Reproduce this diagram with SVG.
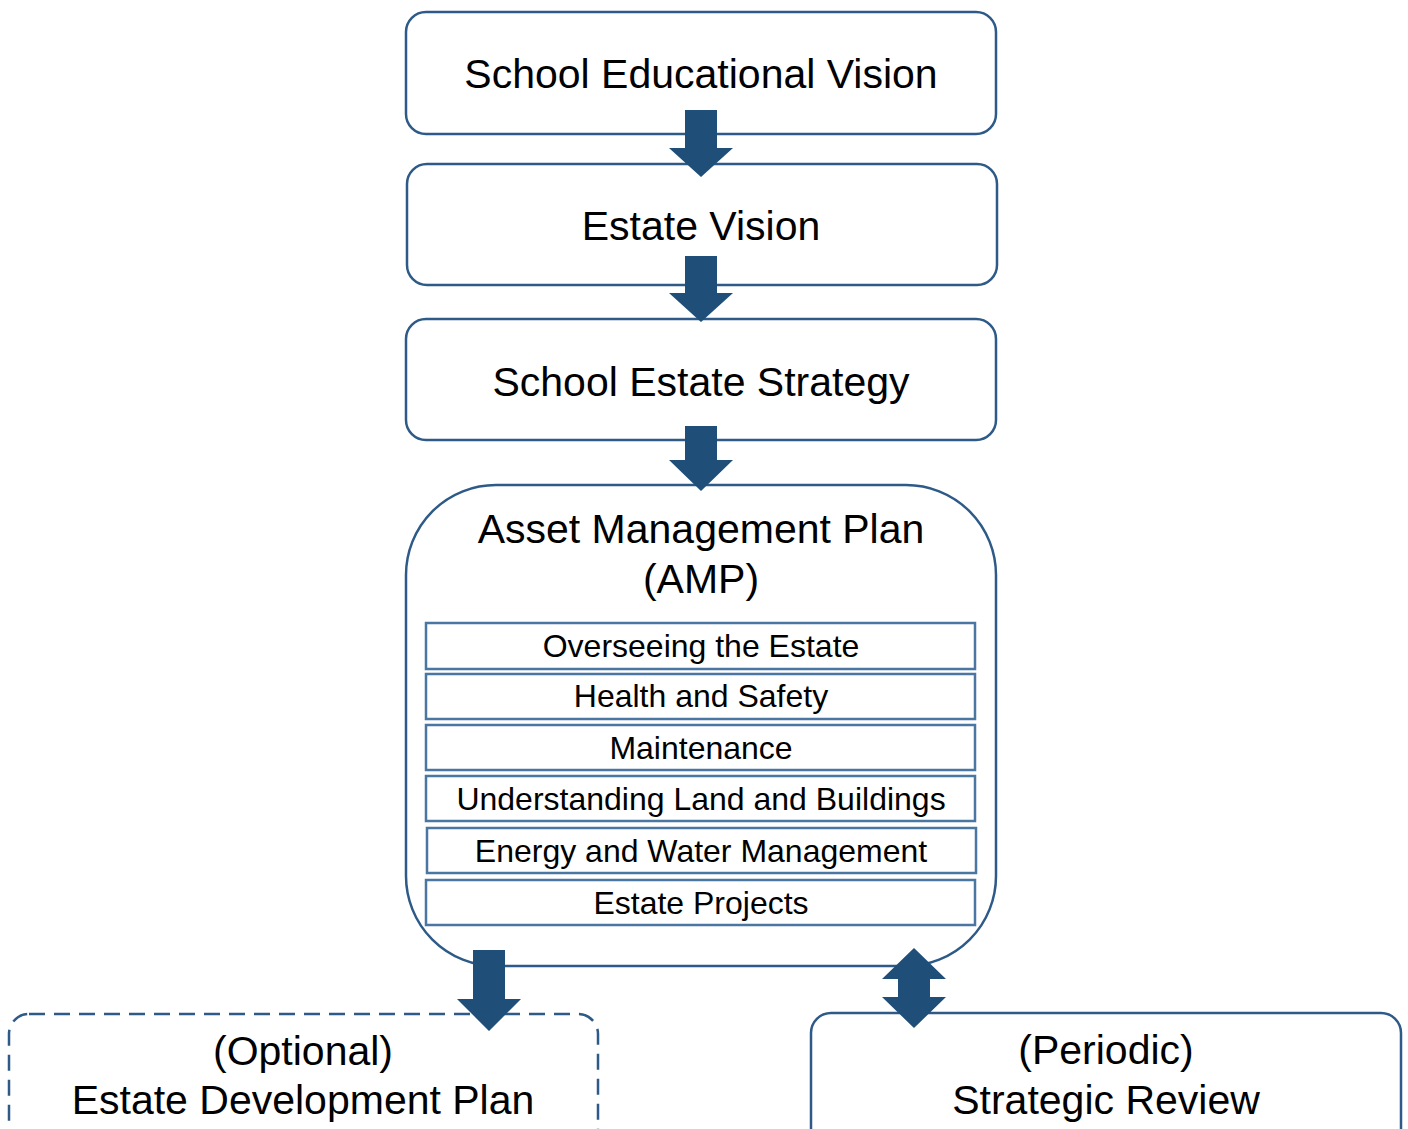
<svg xmlns="http://www.w3.org/2000/svg" width="1408" height="1129" viewBox="0 0 1408 1129">
<style>
.box{fill:#fff;stroke:#2E5A87;stroke-width:2.5}
.dash{fill:#fff;stroke:#2E5A87;stroke-width:2.5;stroke-dasharray:16 9}
.sub{fill:#fff;stroke:#4A76A2;stroke-width:2.5}
.big{font-family:"Liberation Sans",Arial,sans-serif;font-size:41px;fill:#000;text-anchor:middle}
.sm{font-family:"Liberation Sans",Arial,sans-serif;font-size:32px;fill:#000;text-anchor:middle}
.arr{fill:#1F4E79}
</style>
<rect width="1408" height="1129" fill="#fff"/>
<g id="n1"><rect class="box" x="406" y="12" width="590" height="122" rx="20"/><text class="big" x="701" y="88">School Educational Vision</text></g>
<g id="n2"><rect class="box" x="407" y="164" width="590" height="121" rx="20"/><text class="big" x="701" y="240">Estate Vision</text></g>
<g id="n3"><rect class="box" x="406" y="319" width="590" height="121" rx="20"/><text class="big" x="701" y="396">School Estate Strategy</text></g>
<g id="n4">
<rect class="box" x="406" y="485" width="590" height="481" rx="90"/>
<text class="big" x="701" y="543">Asset Management Plan</text>
<text class="big" x="701" y="593">(AMP)</text>
<rect class="sub" x="426" y="623" width="549" height="46"/><text class="sm" x="701" y="657">Overseeing the Estate</text>
<rect class="sub" x="426" y="674" width="549" height="45"/><text class="sm" x="701" y="707">Health and Safety</text>
<rect class="sub" x="426" y="725" width="549" height="45"/><text class="sm" x="701" y="759">Maintenance</text>
<rect class="sub" x="426" y="776" width="549" height="45"/><text class="sm" x="701" y="810">Understanding Land and Buildings</text>
<rect class="sub" x="427" y="828" width="549" height="45"/><text class="sm" x="701" y="862">Energy and Water Management</text>
<rect class="sub" x="426" y="880" width="549" height="45"/><text class="sm" x="701" y="914">Estate Projects</text>
</g>
<g id="n5"><rect class="dash" x="9" y="1014" width="589" height="150" rx="20"/><text class="big" x="303" y="1065">(Optional)</text><text class="big" x="303" y="1114">Estate Development Plan</text></g>
<g id="n6"><rect class="box" x="811" y="1013" width="590" height="150" rx="20"/><text class="big" x="1106" y="1064">(Periodic)</text><text class="big" x="1106" y="1114">Strategic Review</text></g>
<g id="connectors">
<polygon class="arr" points="685,110 717,110 717,148 733,148 701,177 669,148 685,148"/>
<polygon class="arr" points="685,256 717,256 717,293 733,293 701,322 669,293 685,293"/>
<polygon class="arr" points="685,426 717,426 717,460 733,460 701,491 669,460 685,460"/>
<polygon class="arr" points="473,950 505,950 505,999 521,999 489,1031 457,999 473,999"/>
<polygon class="arr" points="914,948 946,979 930,979 930,997 946,997 914,1028 882,997 898,997 898,979 882,979"/>
</g>
</svg>
